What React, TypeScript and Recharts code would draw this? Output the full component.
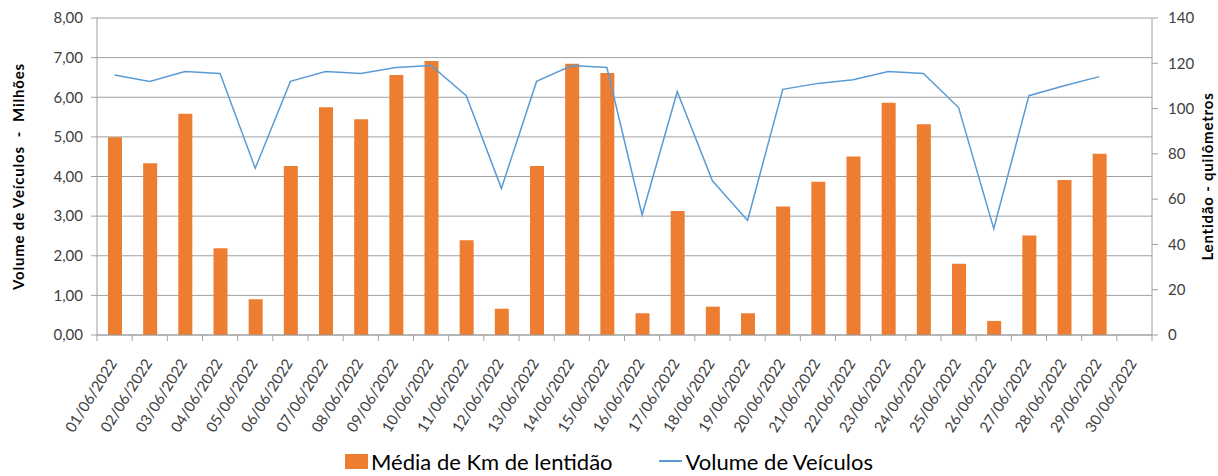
import {
  Bar,
  CartesianGrid,
  ComposedChart,
  Legend,
  Line,
  XAxis,
  YAxis,
} from "recharts";

const dates = [
  "01/06/2022", "02/06/2022", "03/06/2022", "04/06/2022", "05/06/2022",
  "06/06/2022", "07/06/2022", "08/06/2022", "09/06/2022", "10/06/2022",
  "11/06/2022", "12/06/2022", "13/06/2022", "14/06/2022", "15/06/2022",
  "16/06/2022", "17/06/2022", "18/06/2022", "19/06/2022", "20/06/2022",
  "21/06/2022", "22/06/2022", "23/06/2022", "24/06/2022", "25/06/2022",
  "26/06/2022", "27/06/2022", "28/06/2022", "29/06/2022", "30/06/2022",
];

// km de lentidão (eixo direito)
const lentidao = [
  87.3, 75.8, 97.7, 38.3, 15.8, 74.6, 100.6, 95.3, 114.8, 121.0,
  41.8, 11.6, 74.6, 119.8, 115.7, 9.6, 54.8, 12.5, 9.6, 56.7,
  67.7, 78.8, 102.6, 93.1, 31.5, 6.2, 43.9, 68.5, 80.1, null,
];

// volume de veículos em milhões (eixo esquerdo)
const volume = [
  6.56, 6.4, 6.65, 6.6, 4.21, 6.4, 6.65, 6.6, 6.75, 6.8,
  6.04, 3.7, 6.4, 6.8, 6.75, 3.03, 6.14, 3.89, 2.89, 6.2,
  6.35, 6.44, 6.65, 6.6, 5.74, 2.68, 6.04, 6.29, 6.52, null,
];

const leftTicks = [0, 1, 2, 3, 4, 5, 6, 7, 8];
const rightTicks = [0, 20, 40, 60, 80, 100, 120, 140];

const data = dates.map((d, i) => ({
  date: d,
  km: lentidao[i],
  vol: volume[i],
}));

const FONT = "Lato, 'Open Sans', sans-serif";
const AXIS_GREY = "#a0a0a0";
const ORANGE = "#ed7d31";
const BLUE = "#5b9bd5";

function DateTick(props: any) {
  const { x, y, payload, index, width, visibleTicksCount } = props;
  const band = width / visibleTicksCount;
  const left = x - band / 2;
  const tx = x + 3;
  const ty = y + 28;
  return (
    <g>
      <line x1={left} y1={y} x2={left} y2={y + 6} stroke={AXIS_GREY} />
      {index === visibleTicksCount - 1 && (
        <line x1={x + band / 2} y1={y} x2={x + band / 2} y2={y + 6} stroke={AXIS_GREY} />
      )}
      <text
        x={tx}
        y={ty}
        transform={`rotate(-58, ${tx}, ${ty})`}
        textAnchor="end"
        fontSize={15}
        fontFamily={FONT}
        fill="#404040"
      >
        {payload.value}
      </text>
    </g>
  );
}

function AxisTitle({ viewBox, value, dx }: any) {
  const cx = viewBox.x + dx;
  const cy = viewBox.y + viewBox.height / 2;
  return (
    <text
      x={cx}
      y={cy}
      transform={`rotate(-90, ${cx}, ${cy})`}
      textAnchor="middle"
      dominantBaseline="central"
      fontSize={15}
      fontWeight="bold"
      letterSpacing={0.8}
      fontFamily={FONT}
      fill="#000"
      style={{ whiteSpace: "pre" }}
    >
      {value}
    </text>
  );
}

function ChartLegend() {
  return (
    <div
      style={{
        display: "flex",
        justifyContent: "center",
        alignItems: "center",
        fontFamily: FONT,
        fontSize: 22,
        color: "#000",
        height: 30,
      }}
    >
      <span style={{ display: "inline-block", width: 23, height: 15, background: ORANGE, marginRight: 3 }} />
      <span>Média de Km de lentidão</span>
      <span style={{ display: "inline-block", width: 23, height: 2, background: BLUE, marginLeft: 46, marginRight: 4 }} />
      <span>Volume de Veículos</span>
    </div>
  );
}

export default function App() {
  return (
    <div style={{ position: "absolute", left: 0, top: 0, background: "#fff" }}>
      <ComposedChart
        width={1218}
        height={476}
        data={data}
        margin={{ top: 18, right: 0, left: 0, bottom: 0 }}
      >
        <CartesianGrid yAxisId="left" vertical={false} stroke={AXIS_GREY} />
        <XAxis
          dataKey="date"
          interval={0}
          height={111}
          tickLine={false}
          tickSize={0}
          tickMargin={0}
          axisLine={{ stroke: AXIS_GREY }}
          tick={<DateTick />}
        />
        <YAxis
          yAxisId="left"
          orientation="left"
          width={97}
          domain={[0, 8]}
          ticks={leftTicks}
          tickFormatter={(v: number) => v.toFixed(2).replace(".", ",")}
          tickSize={6}
          tickMargin={8}
          axisLine={{ stroke: AXIS_GREY }}
          tickLine={{ stroke: AXIS_GREY }}
          tick={{ fontSize: 15, fontFamily: FONT, fill: "#404040" }}
          label={<AxisTitle value="Volume de Veículos  -  Milhões" dx={18} />}
        />
        <YAxis
          yAxisId="right"
          orientation="right"
          width={66}
          domain={[0, 140]}
          ticks={rightTicks}
          tickSize={6}
          tickMargin={10}
          axisLine={{ stroke: AXIS_GREY }}
          tickLine={{ stroke: AXIS_GREY }}
          tick={{ fontSize: 15, fontFamily: FONT, fill: "#404040" }}
          label={<AxisTitle value="Lentidão - quilômetros" dx={55} />}
        />
        <Legend verticalAlign="bottom" height={30} content={<ChartLegend />} />
        <Bar
          yAxisId="right"
          dataKey="km"
          name="Média de Km de lentidão"
          fill={ORANGE}
          barSize={14}
          isAnimationActive={false}
        />
        <Line
          yAxisId="left"
          dataKey="vol"
          name="Volume de Veículos"
          stroke={BLUE}
          strokeWidth={1.5}
          dot={false}
          type="linear"
          isAnimationActive={false}
        />
      </ComposedChart>
    </div>
  );
}
